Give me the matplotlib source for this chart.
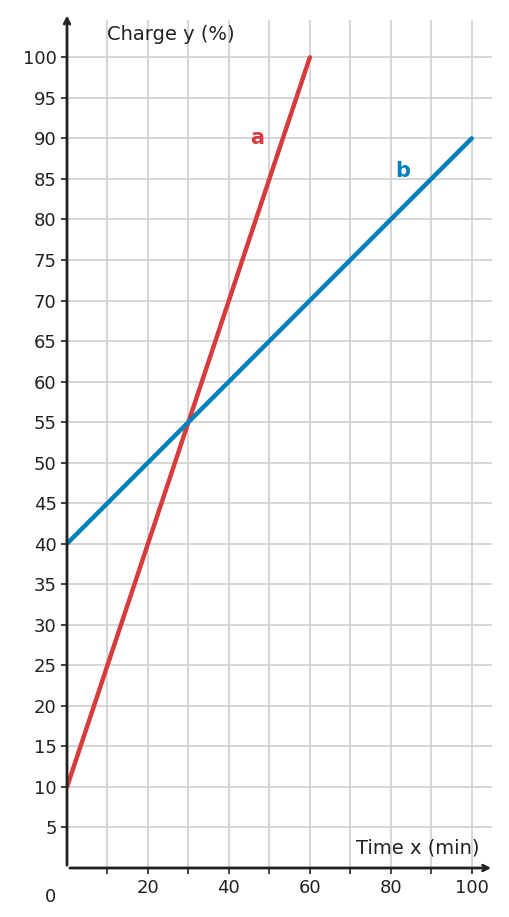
import matplotlib.pyplot as plt
import numpy as np

# data
a_x = [0, 60]
a_y = [10, 100]
b_x = [0, 100]
b_y = [40, 90]
x_ticks = [20, 40, 60, 80, 100]
y_ticks = list(range(5, 105, 5))

RED = "#d63c3c"
BLUE = "#0080bd"
DARK = "#222222"

fig = plt.figure(figsize=(5.10, 9.17), dpi=100)
ax = fig.add_axes([67 / 510, 1 - 868 / 917, 425 / 510, 848 / 917])
ax.set_xlim(0, 105)
ax.set_ylim(0, 104.6)

for gx in range(10, 110, 10):
    ax.axvline(gx, color="#d0d0d0", lw=1.2, zorder=0)
for gy in y_ticks:
    ax.axhline(gy, color="#d0d0d0", lw=1.2, zorder=0)

ax.plot(a_x, a_y, color=RED, lw=3.2, solid_capstyle="round", zorder=3)
ax.plot(b_x, b_y, color=BLUE, lw=3.2, solid_capstyle="round", zorder=3)
ax.text(47, 90, "a", color=RED, fontsize=15, fontweight="bold", ha="center", va="center")
ax.text(83, 86, "b", color=BLUE, fontsize=15, fontweight="bold", ha="center", va="center")

for s in ax.spines.values():
    s.set_visible(False)
ax.annotate("", xy=(105.5, 0), xytext=(0, 0), xycoords="data",
            arrowprops=dict(arrowstyle="->", color=DARK, lw=2), annotation_clip=False)
ax.annotate("", xy=(0, 105.5), xytext=(0, 0), xycoords="data",
            arrowprops=dict(arrowstyle="->", color=DARK, lw=2), annotation_clip=False)

ax.set_xticks(range(10, 110, 10))
ax.set_xticklabels(["" if t % 20 else str(t) for t in range(10, 110, 10)])
ax.set_yticks(y_ticks)
ax.set_yticklabels([str(t) for t in y_ticks])
ax.tick_params(axis="both", labelsize=13, colors=DARK, length=4, width=1.2, direction="out")
ax.tick_params(axis="x", pad=4)
ax.text(-4, -2.5, "0", fontsize=13, color=DARK, ha="center", va="top")

ax.text(10, 102.8, "Charge y (%)", fontsize=14, color=DARK, ha="left", va="center")
ax.text(102, 2.5, "Time x (min)", fontsize=14, color=DARK, ha="right", va="center")

fig.savefig("out.png", dpi=100)
